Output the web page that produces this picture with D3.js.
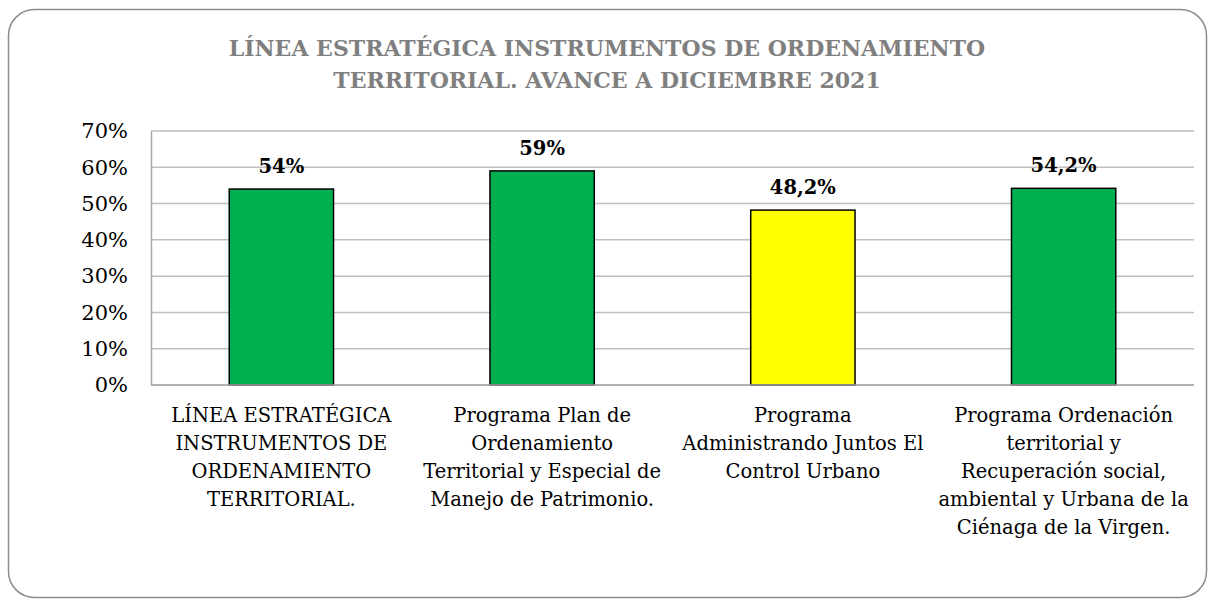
<!DOCTYPE html>
<html>
<head>
<meta charset="utf-8">
<script src="https://cdn.jsdelivr.net/npm/d3@7"></script>
<style>
  body { margin: 0; background: #fff; }
  svg text { font-family: "DejaVu Serif", serif; }
</style>
</head>
<body>
<div id="chart"></div>
<script>
// chart data
const categories = [
    "LÍNEA ESTRATÉGICA|INSTRUMENTOS DE|ORDENAMIENTO|TERRITORIAL.",
    "Programa Plan de|Ordenamiento|Territorial y Especial de|Manejo de Patrimonio.",
    "Programa|Administrando Juntos El|Control Urbano",
    "Programa Ordenación|territorial y|Recuperación social,|ambiental y Urbana de la|Ciénaga de la Virgen."
];
const values = [0.54, 0.59, 0.482, 0.542];
const valueLabels = ["54%", "59%", "48,2%", "54,2%"];
const barColors = ["#00b050", "#00b050", "#ffff00", "#00b050"];
const yTicks = [0, 0.1, 0.2, 0.3, 0.4, 0.5, 0.6, 0.7];
const titleLines = ["LÍNEA ESTRATÉGICA INSTRUMENTOS DE ORDENAMIENTO", "TERRITORIAL. AVANCE A DICIEMBRE 2021"];

const width = 1215, height = 606;
const margin = {top: 131, right: 21, bottom: 221, left: 151};
const fontFam = "DejaVu Serif, serif";

const svg = d3.select("#chart").append("svg")
    .attr("width", width)
    .attr("height", height);

// outer frame
svg.append("rect")
    .attr("x", 8.5).attr("y", 9.5)
    .attr("width", 1198).attr("height", 588)
    .attr("rx", 26).attr("ry", 26)
    .attr("fill", "#fff")
    .attr("stroke", "#8c8c8c")
    .attr("stroke-width", 1.5);

// title
svg.append("g").selectAll("text")
    .data(titleLines)
    .join("text")
    .attr("x", 607)
    .attr("y", (d, i) => 56 + i * 32)
    .attr("text-anchor", "middle")
    .attr("font-family", fontFam)
    .attr("font-size", 22)
    .attr("font-weight", "bold")
    .attr("fill", "#7f7f7f")
    .text(d => d);

const x = d3.scaleBand()
    .domain(d3.range(categories.length))
    .range([margin.left, width - margin.right])
    .paddingInner(0.6)
    .paddingOuter(0.3);

const y = d3.scaleLinear()
    .domain([0, 0.7])
    .range([height - margin.bottom, margin.top]);

// gridlines
svg.append("g")
    .selectAll("line")
    .data(yTicks)
    .join("line")
    .attr("x1", margin.left).attr("x2", width - margin.right)
    .attr("y1", d => y(d)).attr("y2", d => y(d))
    .attr("stroke", "#bfbfbf")
    .attr("stroke-width", 1.5);

// y axis
const yAxis = svg.append("g")
    .attr("transform", `translate(${margin.left},0)`)
    .call(d3.axisLeft(y).tickValues(yTicks).tickFormat(d3.format(".0%")).tickSize(0).tickPadding(23));
yAxis.select(".domain").attr("stroke", "#a6a6a6").attr("stroke-width", 1.5);
yAxis.selectAll("text")
    .attr("font-family", fontFam)
    .attr("font-size", 21)
    .attr("fill", "#000");

// bars
svg.append("g")
    .selectAll("rect")
    .data(values)
    .join("rect")
    .attr("x", (d, i) => x(i))
    .attr("y", d => y(d))
    .attr("width", x.bandwidth())
    .attr("height", d => y(0) - y(d))
    .attr("fill", (d, i) => barColors[i])
    .attr("stroke", "#000")
    .attr("stroke-width", 1.5);

// bottom axis line
svg.append("line")
    .attr("x1", margin.left).attr("x2", width - margin.right)
    .attr("y1", y(0)).attr("y2", y(0))
    .attr("stroke", "#a6a6a6")
    .attr("stroke-width", 1.5);

// value labels
svg.append("g")
    .selectAll("text")
    .data(values)
    .join("text")
    .attr("x", (d, i) => x(i) + x.bandwidth() / 2)
    .attr("y", d => y(d) - 16)
    .attr("text-anchor", "middle")
    .attr("font-family", fontFam)
    .attr("font-size", 19.5)
    .attr("font-weight", "bold")
    .attr("fill", "#000")
    .text((d, i) => valueLabels[i]);

// category labels
const cat = svg.append("g")
    .selectAll("text")
    .data(categories)
    .join("text")
    .attr("text-anchor", "middle")
    .attr("font-family", fontFam)
    .attr("font-size", 19.5)
    .attr("fill", "#000");
cat.each(function(d, i) {
    const cx = x(i) + x.bandwidth() / 2;
    d3.select(this).selectAll("tspan")
        .data(d.split("|"))
        .join("tspan")
        .attr("x", cx)
        .attr("y", (s, j) => 422 + j * 28)
        .text(s => s);
});
</script>
</body>
</html>
